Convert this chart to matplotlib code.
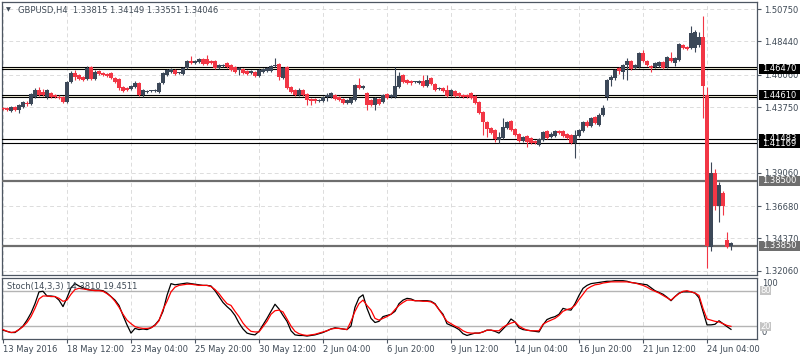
import matplotlib
matplotlib.use("Agg")
import matplotlib.pyplot as plt
import matplotlib.transforms as mtransforms
from matplotlib.patches import Rectangle

# GBPUSD H4 candles, 13 May 20:00 -> 27 Jun 04:00
opens = [
    1.4369, 1.4369, 1.4347, 1.4376, 1.4354, 1.4376, 1.4404, 1.4397, 1.4447, 1.4497,
    1.4483, 1.4447, 1.4476, 1.4461, 1.4447, 1.4447, 1.4411, 1.4554, 1.4619, 1.4604,
    1.4590, 1.4576, 1.4661, 1.4576, 1.4633, 1.4619, 1.4611, 1.4619, 1.4583, 1.4576,
    1.4518, 1.4511, 1.4504, 1.4518, 1.4547, 1.4461, 1.4483, 1.4488, 1.4490, 1.4483,
    1.4547, 1.4604, 1.4626, 1.4640, 1.4617, 1.4611, 1.4654, 1.4704, 1.4690, 1.4697,
    1.4718, 1.4718, 1.4704, 1.4704, 1.4654, 1.4668, 1.4690, 1.4676, 1.4661, 1.4640,
    1.4647, 1.4633, 1.4619, 1.4626, 1.4597, 1.4626, 1.4633, 1.4633, 1.4668, 1.4683,
    1.4583, 1.4661, 1.4518, 1.4497, 1.4461, 1.4497, 1.4469, 1.4433, 1.4433, 1.4419,
    1.4419, 1.4447, 1.4447, 1.4461, 1.4447, 1.4433, 1.4404, 1.4404, 1.4426, 1.4533,
    1.4511, 1.4476, 1.4426, 1.4390, 1.4433, 1.4411, 1.4469, 1.4447, 1.4447, 1.4518,
    1.4604, 1.4569, 1.4561, 1.4552, 1.4547, 1.4561, 1.4526, 1.4583, 1.4540, 1.4504,
    1.4511, 1.4497, 1.4461, 1.4490, 1.4476, 1.4461, 1.4461, 1.4476, 1.4454, 1.4411,
    1.4340, 1.4269, 1.4226, 1.4211, 1.4140, 1.4154, 1.4226, 1.4276, 1.4219, 1.4183,
    1.4133, 1.4169, 1.4154, 1.4133, 1.4104, 1.4140, 1.4204, 1.4162, 1.4169, 1.4204,
    1.4204, 1.4183, 1.4176, 1.4119, 1.4169, 1.4204, 1.4269, 1.4240, 1.4304, 1.4247,
    1.4319, 1.4447, 1.4569, 1.4583, 1.4654, 1.4626, 1.4676, 1.4704, 1.4654, 1.4661,
    1.4761, 1.4704, 1.4668, 1.4661, 1.4668, 1.4697, 1.4661, 1.4726, 1.4690, 1.4711,
    1.4818, 1.4804, 1.4797, 1.4797, 1.4818, 1.4876, 1.4461, 1.3376, 1.3905, 1.3669,
    1.3762, 1.3426, 1.33815,
]
highs = [
    1.4376, 1.4376, 1.4383, 1.4383, 1.4397, 1.4419, 1.4419, 1.4476, 1.4511, 1.4518,
    1.4504, 1.4504, 1.4483, 1.4469, 1.4461, 1.4454, 1.4561, 1.4633, 1.4640, 1.4611,
    1.4597, 1.4668, 1.4668, 1.4640, 1.4640, 1.4626, 1.4619, 1.4626, 1.4590, 1.4583,
    1.4526, 1.4518, 1.4533, 1.4561, 1.4554, 1.4504, 1.4497, 1.4497, 1.4504, 1.4554,
    1.4626, 1.4647, 1.4654, 1.4647, 1.4626, 1.4661, 1.4711, 1.4740, 1.4711, 1.4726,
    1.4726, 1.4747, 1.4711, 1.4711, 1.4683, 1.4683, 1.4697, 1.4683, 1.4668, 1.4661,
    1.4654, 1.4640, 1.4640, 1.4633, 1.4647, 1.4654, 1.4661, 1.4676, 1.4726, 1.4690,
    1.4661, 1.4668, 1.4526, 1.4504, 1.4511, 1.4504, 1.4476, 1.4440, 1.4440, 1.4433,
    1.4454, 1.4476, 1.4483, 1.4469, 1.4454, 1.4440, 1.4433, 1.4447, 1.4540, 1.4583,
    1.4533, 1.4483, 1.4433, 1.4447, 1.4440, 1.4469, 1.4476, 1.4469, 1.4661, 1.4626,
    1.4611, 1.4576, 1.4569, 1.4561, 1.4569, 1.4604, 1.4604, 1.4590, 1.4547, 1.4518,
    1.4518, 1.4533, 1.4504, 1.4497, 1.4483, 1.4469, 1.4469, 1.4483, 1.4461, 1.4419,
    1.4347, 1.4276, 1.4233, 1.4219, 1.4197, 1.4297, 1.4276, 1.4283, 1.4226, 1.4190,
    1.4169, 1.4176, 1.4162, 1.4140, 1.4154, 1.4204, 1.4211, 1.4197, 1.4211, 1.4211,
    1.4211, 1.4190, 1.4183, 1.4211, 1.4219, 1.4276, 1.4283, 1.4304, 1.4312, 1.4333,
    1.4390, 1.4576, 1.4604, 1.4647, 1.4661, 1.4683, 1.4726, 1.4711, 1.4683, 1.4768,
    1.4783, 1.4711, 1.4676, 1.4697, 1.4704, 1.4704, 1.4740, 1.4768, 1.4733, 1.4833,
    1.4826, 1.4811, 1.4954, 1.4926, 1.4911, 1.5025, 1.4518, 1.3983, 1.3933, 1.3840,
    1.3776, 1.3483, 1.34149,
]
lows = [
    1.4354, 1.4347, 1.4340, 1.4347, 1.4333, 1.4369, 1.4383, 1.4390, 1.4440, 1.4454,
    1.4454, 1.4433, 1.4440, 1.4440, 1.4433, 1.4404, 1.4404, 1.4547, 1.4569, 1.4569,
    1.4561, 1.4569, 1.4569, 1.4569, 1.4604, 1.4597, 1.4590, 1.4576, 1.4547, 1.4497,
    1.4483, 1.4490, 1.4497, 1.4511, 1.4454, 1.4447, 1.4476, 1.4483, 1.4483, 1.4476,
    1.4540, 1.4597, 1.4619, 1.4604, 1.4611, 1.4604, 1.4647, 1.4683, 1.4683, 1.4690,
    1.4676, 1.4676, 1.4683, 1.4647, 1.4647, 1.4661, 1.4654, 1.4633, 1.4619, 1.4604,
    1.4611, 1.4604, 1.4611, 1.4590, 1.4590, 1.4619, 1.4626, 1.4626, 1.4661, 1.4569,
    1.4576, 1.4504, 1.4476, 1.4454, 1.4454, 1.4454, 1.4390, 1.4390, 1.4404, 1.4411,
    1.4411, 1.4419, 1.4440, 1.4426, 1.4419, 1.4397, 1.4397, 1.4397, 1.4419, 1.4504,
    1.4504, 1.4354, 1.4383, 1.4354, 1.4390, 1.4404, 1.4433, 1.4440, 1.4440, 1.4511,
    1.4547, 1.4540, 1.4533, 1.4547, 1.4540, 1.4518, 1.4518, 1.4533, 1.4490, 1.4497,
    1.4483, 1.4447, 1.4454, 1.4447, 1.4447, 1.4440, 1.4440, 1.4433, 1.4397, 1.4326,
    1.4176, 1.4162, 1.4183, 1.4126, 1.4119, 1.4147, 1.4219, 1.4204, 1.4169, 1.4126,
    1.4126, 1.4090, 1.4112, 1.4112, 1.4097, 1.4133, 1.4147, 1.4154, 1.4162, 1.4183,
    1.4162, 1.4147, 1.4112, 1.4012, 1.4162, 1.4197, 1.4233, 1.4233, 1.4254, 1.4240,
    1.4312, 1.4426, 1.4526, 1.4569, 1.4611, 1.4576, 1.4569, 1.4640, 1.4647, 1.4654,
    1.4697, 1.4668, 1.4626, 1.4654, 1.4661, 1.4647, 1.4654, 1.4697, 1.4668, 1.4704,
    1.4790, 1.4783, 1.4790, 1.4768, 1.4804, 1.4297, 1.3226, 1.3348, 1.3640, 1.3555,
    1.3605, 1.3369, 1.33551,
]
closes = [
    1.4361, 1.4354, 1.4376, 1.4354, 1.4390, 1.4411, 1.4397, 1.4469, 1.4497, 1.4461,
    1.4461, 1.4497, 1.4447, 1.4447, 1.4440, 1.4411, 1.4554, 1.4619, 1.4590, 1.4576,
    1.4569, 1.4654, 1.4576, 1.4626, 1.4611, 1.4604, 1.4597, 1.4583, 1.4554, 1.4511,
    1.4490, 1.4497, 1.4526, 1.4547, 1.4461, 1.4497, 1.4490, 1.4491, 1.4497, 1.4547,
    1.4619, 1.4640, 1.4647, 1.4611, 1.4620, 1.4654, 1.4704, 1.4690, 1.4704, 1.4718,
    1.4683, 1.4683, 1.4690, 1.4654, 1.4676, 1.4676, 1.4661, 1.4640, 1.4626, 1.4654,
    1.4619, 1.4611, 1.4633, 1.4597, 1.4640, 1.4647, 1.4654, 1.4668, 1.4676, 1.4590,
    1.4654, 1.4511, 1.4483, 1.4461, 1.4497, 1.4461, 1.4426, 1.4419, 1.4419, 1.4426,
    1.4447, 1.4461, 1.4476, 1.4433, 1.4426, 1.4404, 1.4426, 1.4440, 1.4533, 1.4511,
    1.4526, 1.4390, 1.4390, 1.4440, 1.4397, 1.4461, 1.4440, 1.4461, 1.4526, 1.4597,
    1.4554, 1.4547, 1.4547, 1.4555, 1.4561, 1.4526, 1.4569, 1.4540, 1.4497, 1.4511,
    1.4490, 1.4454, 1.4497, 1.4454, 1.4454, 1.4447, 1.4447, 1.4440, 1.4404, 1.4333,
    1.4269, 1.4219, 1.4190, 1.4147, 1.4162, 1.4233, 1.4269, 1.4211, 1.4176, 1.4133,
    1.4162, 1.4126, 1.4119, 1.4119, 1.4147, 1.4197, 1.4154, 1.4183, 1.4204, 1.4190,
    1.4169, 1.4154, 1.4119, 1.4176, 1.4211, 1.4269, 1.4240, 1.4297, 1.4261, 1.4319,
    1.4369, 1.4569, 1.4590, 1.4640, 1.4633, 1.4676, 1.4704, 1.4647, 1.4676, 1.4761,
    1.4704, 1.4676, 1.4654, 1.4690, 1.4697, 1.4654, 1.4733, 1.4704, 1.4726, 1.4826,
    1.4797, 1.4790, 1.4904, 1.4911, 1.4876, 1.4526, 1.3383, 1.3905, 1.3669, 1.3819,
    1.3669, 1.3376, 1.34046,
]

# Stoch(14,3,3): main (black) and signal (red)
stoch_main = [
    13, 11, 9, 9, 14, 20, 30, 42, 58, 78,
    79, 71, 71, 70, 64, 53, 68, 85, 92, 88,
    85, 82, 81, 81, 81, 80, 76, 70, 64, 55,
    38, 22, 8, 16, 14, 15, 14, 17, 22, 30,
    45, 72, 92, 90, 91, 92, 93, 92, 91, 90,
    89, 89, 88, 80, 70, 60, 53, 47, 38, 25,
    15, 8, 6, 5, 11, 22, 33, 45, 57, 49,
    38, 28, 12, 5, 4, 4, 3, 4, 5, 7,
    9, 12, 15, 17, 16, 15, 14, 20, 52, 68,
    73, 50, 33, 26, 28, 36, 38, 40, 45, 58,
    64, 67, 66, 63, 63, 63, 63, 62, 58, 48,
    40, 24, 21, 18, 14, 7, 4, 6, 8, 8,
    10, 13, 13, 11, 8, 15, 22, 32, 27, 17,
    14, 13, 12, 11, 10, 22, 31, 34, 36, 40,
    50, 48, 47, 58, 72, 84, 89, 92, 93, 94,
    95, 96, 96, 97, 97, 97, 96, 94, 93, 92,
    91, 90, 85, 80, 77, 74, 69, 63, 70, 76,
    78, 78, 78, 76, 68, 45, 22, 22, 23, 29,
    24, 19, 14.381,
]
stoch_signal = [
    14, 11, 9, 10, 14, 19, 26, 36, 50, 66,
    71, 71, 70, 70, 67, 62, 64, 74, 82, 84,
    83, 82, 81, 80, 80, 79, 75, 70, 62, 52,
    40, 30, 24, 19, 17, 16, 16, 17, 21, 29,
    48, 62, 78, 86, 89, 90, 91, 91, 90, 89,
    89, 89, 87, 82, 75, 66, 58, 55, 45, 36,
    25, 17, 11, 10, 10, 19, 28, 40, 46, 47,
    44, 32, 20, 11, 7, 5, 4, 5, 6, 8,
    10, 12, 15, 16, 16, 15, 14, 28, 45, 58,
    64, 55, 47, 33, 30, 33, 36, 40, 48, 55,
    60, 64, 64, 63, 63, 62, 62, 61, 57, 48,
    38, 28, 24, 20, 17, 12, 9, 8, 8, 8,
    10, 13, 13, 12, 12, 18, 22, 25, 27, 20,
    16, 13, 12, 12, 12, 23, 27, 30, 33, 38,
    45, 48, 50, 55, 65, 74, 83, 87, 90, 91,
    93, 94, 95, 95, 95, 95, 95, 94, 93, 91,
    89, 86, 82, 79, 76, 72, 68, 64, 70, 75,
    79, 80, 78, 76, 72, 50, 32, 30, 28, 27,
    24, 21, 19.4511,
]

time_labels = ["13 May 2016", "18 May 12:00", "23 May 04:00", "25 May 20:00",
               "30 May 12:00", "2 Jun 04:00", "6 Jun 20:00", "9 Jun 12:00",
               "14 Jun 04:00", "16 Jun 20:00", "21 Jun 12:00", "24 Jun 04:00"]
label_bars = [0, 16, 32, 48, 64, 80, 96, 112, 128, 144, 160, 176]
price_ticks = [1.5075, 1.4844, 1.4606, 1.4375, 1.4144, 1.3906, 1.3668, 1.3437, 1.3206]
price_tick_text = ["1.50750", "1.48440", "1.46060", "1.43750", "",
                   "1.39060", "1.36680", "1.34370", "1.32060"]

# support / resistance zones (pairs of lines) and single levels
zones = [(1.4647, 1.4662), (1.4447, 1.4461), (1.41169, 1.41483)]
gray_levels = [1.3850, 1.3385]
level_tags = [(1.41483, "1.41483", "black"), (1.4647, "1.46470", "black"),
              (1.4461, "1.44610", "black"), (1.41169, "1.41169", "black"),
              (1.3850, "1.38500", "gray"), (1.3385, "1.33850", "gray")]

BULL = "#3c4858"
BEAR = "#f23645"
TXT = "#3f4a56"
FRAME = "#4d5662"
GRID = "#dcdcdc"
LGRAY = "#6e6e6e"
FS = 6

fig = plt.figure(figsize=(8, 3.6), dpi=100)
W, H = 800, 360
ax = fig.add_axes([2 / W, 1 - 275 / H, 755 / W, 273 / H])
ax2 = fig.add_axes([2 / W, 1 - 339 / H, 755 / W, 61.5 / H])

n = len(opens)
x = list(range(n))
cols = [BULL if c >= o else BEAR for o, c in zip(opens, closes)]
bottoms = [min(o, c) for o, c in zip(opens, closes)]
heights = [max(abs(c - o), 0.0006) for o, c in zip(opens, closes)]

ax.vlines(x, lows, highs, colors=cols, lw=0.8, zorder=4)
ax.bar(x, heights, bottom=bottoms, width=0.8, color=cols, lw=0, zorder=5)

# zones and levels
for lo, hi in zones:
    if lo > 1.44:
        ax.axhspan(lo, hi, color="#fbf8e0", lw=0, zorder=1)
    ax.axhline(lo, color="black", lw=0.8, zorder=3)
    ax.axhline(hi, color="black", lw=0.8, zorder=3)
for p in gray_levels:
    ax.axhline(p, color=LGRAY, lw=1.6, zorder=3)

xlim = (-0.25, 188.5)
ax.set_xlim(*xlim)
ax.set_ylim(1.3176, 1.5125)
ax.set_xticks(label_bars)
ax.set_yticks(price_ticks)
ax.set_yticklabels(price_tick_text)
ax.yaxis.tick_right()
ax.tick_params(axis="x", bottom=False, labelbottom=False)
ax.tick_params(axis="y", direction="out", length=3, width=0.8, color=FRAME,
               labelsize=FS, labelcolor=TXT, pad=2)
ax.grid(True, ls=(0, (4, 3)), color=GRID, lw=0.7, zorder=0)
for s in ax.spines.values():
    s.set_color(FRAME)
    s.set_linewidth(0.9)

# price tags on the right axis
tr = mtransforms.blended_transform_factory(fig.transFigure, ax.transData)
bh = 10 * (1.5125 - 1.3176) / 273
for p, txt, kind in level_tags:
    fc = "black" if kind == "black" else LGRAY
    ax.add_patch(Rectangle((759 / W, p - bh / 2), 41 / W, bh, transform=tr,
                           facecolor=fc, edgecolor="none", clip_on=False, zorder=10))
    ax.text(779.5 / W, p, txt, transform=tr, ha="center", va="center", color="white",
            fontsize=FS, clip_on=False, zorder=11)

# stochastic panel
ax2.plot(x, stoch_main, color="black", lw=0.9, zorder=3)
ax2.plot(x, stoch_signal, color="red", lw=0.9, zorder=4)
ax2.axhline(80, color="#b4b4b4", lw=1.0, zorder=2)
ax2.axhline(20, color="#b4b4b4", lw=1.0, zorder=2)
ax2.set_xlim(*xlim)
ax2.set_ylim(-2, 102.4)
ax2.set_yticks([])
ax2.set_xticks(label_bars)
ax2.set_xticklabels(time_labels, ha="left")
ax2.tick_params(axis="x", direction="out", length=3, width=0.8, color=FRAME,
                labelsize=FS, labelcolor=TXT, pad=1.5)
ax2.grid(True, axis="x", ls=(0, (4, 3)), color=GRID, lw=0.7, zorder=0)
for s in ax2.spines.values():
    s.set_color(FRAME)
    s.set_linewidth(0.9)

tr2 = mtransforms.blended_transform_factory(fig.transFigure, ax2.transData)
ax2.text(762 / W, 93, "100", transform=tr2, ha="left", va="center", color=TXT,
         fontsize=FS, clip_on=False)
ax2.text(762 / W, 9, "0", transform=tr2, ha="left", va="center", color=TXT,
         fontsize=FS, clip_on=False)
sh = 9 / 61.5 * 104.4
for lv in (80, 20):
    ax2.add_patch(Rectangle((760 / W, lv - sh / 2), 11 / W, sh, transform=tr2,
                            facecolor="#c4c4c4", edgecolor="none", clip_on=False, zorder=10))
    ax2.text(765.5 / W, lv, str(lv), transform=tr2, ha="center", va="center",
             color="white", fontsize=FS, clip_on=False, zorder=11)

# header texts
fig.text(6 / W, 1 - 10 / H, "\u25bc", fontsize=4.5, color=TXT, va="center")
fig.text(18 / W, 1 - 10 / H, "GBPUSD,H4  1.33815 1.34149 1.33551 1.34046",
         fontsize=FS, color=TXT, va="center")
fig.text(7 / W, 1 - 287 / H, "Stoch(14,3,3) 14.3810 19.4511",
         fontsize=FS, color=TXT, va="center", zorder=20)

fig.savefig("out.png", dpi=100)
